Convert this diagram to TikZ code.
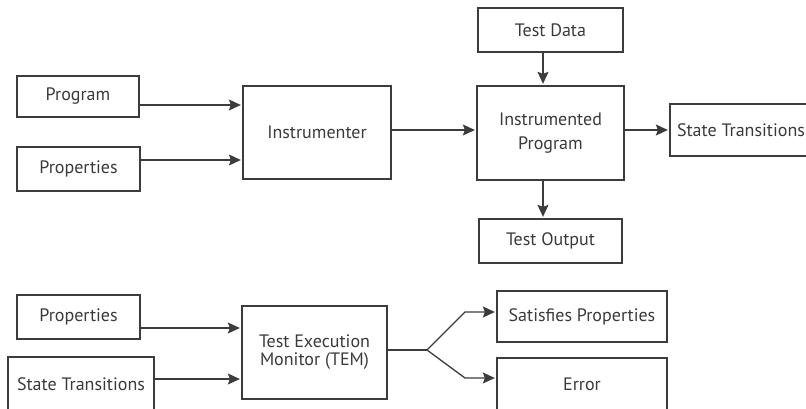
\documentclass[tikz,border=0pt]{standalone}
\usepackage{fontspec}
\setmainfont{PT Sans}
\usetikzlibrary{arrows.meta}
\definecolor{ln}{HTML}{3C3C3C}
\definecolor{tx}{HTML}{3A3A3A}
\tikzset{
  blk/.style={draw=ln, line width=1.3pt, rectangle, inner sep=0pt, align=center,
    text=tx, font=\fontsize{18}{23}\selectfont},
  arr/.style={draw=ln, line width=1.3pt, -{Stealth[length=12pt,width=11pt,inset=2pt]}, shorten >=1.5pt},
  ln/.style={draw=ln, line width=1.3pt}
}
\begin{document}
\begin{tikzpicture}[x=1pt,y=-1pt]
\useasboundingbox (0,0) rectangle (806,409);
\node[blk, minimum width=122pt, minimum height=41pt] (prog) at (78,96.5) {Program};
\node[blk, minimum width=123pt, minimum height=44pt] (props1) at (78.5,169) {Properties};
\node[blk, minimum width=148pt, minimum height=93pt] (instr) at (317,132.5) {Instrumenter};
\node[blk, minimum width=145pt, minimum height=44pt] (testdata) at (550.5,30) {Test Data};
\node[blk, minimum width=147pt, minimum height=94pt] (iprog) at (550.5,133) {Instrumented\\[1pt]Program};
\node[blk, minimum width=142pt, minimum height=52pt] (st1) at (741,130) {State Transitions};
\node[blk, minimum width=143pt, minimum height=44pt] (testout) at (550.5,241) {Test Output};
\node[blk, minimum width=123pt, minimum height=44pt] (props2) at (78.5,317) {Properties};
\node[blk, minimum width=146pt, minimum height=54pt] (st2) at (81,384) {State Transitions};
\node[blk, minimum width=145pt, minimum height=93pt] (tem) at (314.5,352.5) {Test Execution\\[-5pt]Monitor (TEM)};
\node[blk, minimum width=170pt, minimum height=51pt] (sat) at (582,316.5) {Satisfies Properties};
\node[blk, minimum width=170pt, minimum height=53pt] (err) at (582,384.5) {Error};
\coordinate (br) at (427,350);
\coordinate (bu) at (465,312);
\coordinate (bd) at (465,378);
\draw[arr] (prog.east |- 0,105) -- (instr.west |- 0,105);
\draw[arr] (props1.east |- 0,160) -- (instr.west |- 0,160);
\draw[arr] (instr.east |- 0,130) -- (iprog.west |- 0,130);
\draw[arr] (iprog.east |- 0,130) -- (st1.west |- 0,130);
\draw[arr] (testdata.south -| 543,0) -- (iprog.north -| 543,0);
\draw[arr] (iprog.south -| 543,0) -- (testout.north -| 543,0);
\draw[arr] (props2.east |- 0,328) -- (tem.west |- 0,328);
\draw[arr] (st2.east |- 0,379) -- (tem.west |- 0,379);
\draw[ln] (tem.east |- br) -- (br);
\draw[arr] (br) -- (bu) -- (sat.west |- bu);
\draw[arr] (br) -- (bd) -- (err.west |- bd);
\end{tikzpicture}
\end{document}
